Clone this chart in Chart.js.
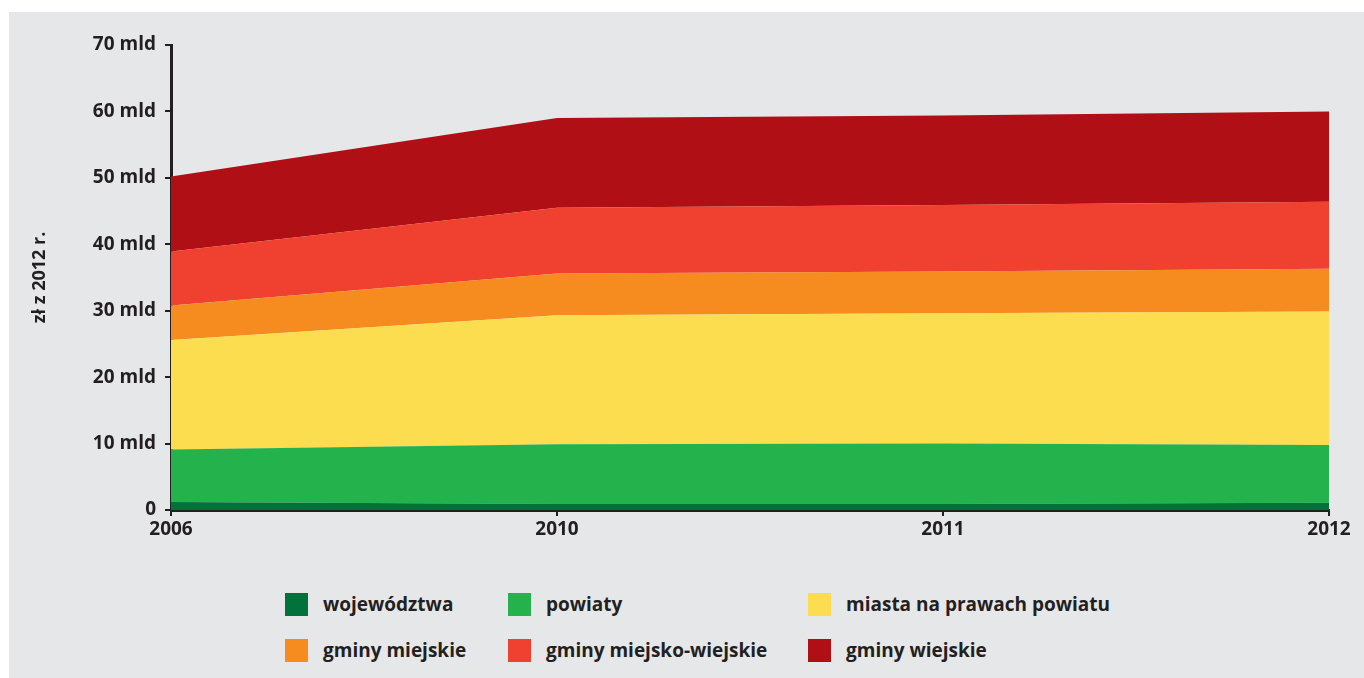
<!DOCTYPE html>
<html>
<head>
<meta charset="utf-8">
<script src="https://cdn.jsdelivr.net/npm/chart.js@4.4.0/dist/chart.umd.min.js"></script>
<style>
    body { margin: 0; background: #fff; font-family: "Open Sans", sans-serif; }
    #panel { position: absolute; left: 9px; top: 12px; width: 1355px; height: 666px; background: #e6e7e9; }
    #wrap { position: absolute; left: 0; top: 0; width: 1355px; height: 560px; }
    #legend { position: absolute; left: 276px; top: 569px; display: grid;
              grid-template-columns: 223px 300px 400px; grid-auto-rows: 46px; }
    .item { display: flex; align-items: center; font-weight: 700; font-size: 19px; color: #231f20; white-space: nowrap; }
    .box { width: 23px; height: 23px; margin-right: 15px; flex: none; }
</style>
</head>
<body>
<div id="panel">
    <div id="wrap"><canvas id="chart"></canvas></div>
    <div id="legend"></div>
</div>
<script>
// ==========================
// DANE
// ==========================
const years = ["2006", "2010", "2011", "2012"];

const wojewodztwa     = [1.2, 0.9, 0.9, 1.1];
const powiaty         = [7.9, 9.0, 9.1, 8.7];
const miasta          = [16.5, 19.4, 19.6, 20.1];
const gminyMiejskie   = [5.2, 6.3, 6.3, 6.4];
const gminyMiejskoWiej = [8.1, 9.9, 10.0, 10.1];
const gminyWiejskie   = [11.3, 13.5, 13.5, 13.6];

const yTicks = [0, 10, 20, 30, 40, 50, 60, 70];

const seriesNames  = ["województwa", "powiaty", "miasta na prawach powiatu",
                      "gminy miejskie", "gminy miejsko-wiejskie", "gminy wiejskie"];
const seriesValues = [wojewodztwa, powiaty, miasta, gminyMiejskie, gminyMiejskoWiej, gminyWiejskie];
const seriesColors = ["#00723a", "#24b24d", "#fddd50", "#f68b20", "#ef4030", "#b00f16"];

const ink = '#231f20';
const font = { family: '"Open Sans", sans-serif', size: 19, weight: '700' };

// ==========================
// WYKRES
// ==========================
const datasets = seriesNames.map((name, i) => ({
    label: name,
    data: seriesValues[i],
    backgroundColor: seriesColors[i],
    borderColor: seriesColors[i],
    borderWidth: 0,
    pointRadius: 0,
    fill: i === 0 ? 'origin' : '-1',
    tension: 0
}));

new Chart(document.getElementById('chart'), {
    type: 'line',
    data: { labels: years, datasets },
    options: {
        responsive: true,
        maintainAspectRatio: false,
        animation: false,
        layout: { padding: { left: 0, top: 33, right: 35, bottom: 0 } },
        plugins: { legend: { display: false }, tooltip: { enabled: false } },
        scales: {
            x: {
                offset: false,
                grid: { drawOnChartArea: false, drawTicks: true, tickLength: 6, color: ink, lineWidth: 2 },
                border: { color: ink, width: 3 },
                ticks: { color: ink, font, padding: 2, maxRotation: 0 },
                afterFit: s => { s.height = 62; }
            },
            y: {
                stacked: true,
                min: 0,
                max: 70,
                afterBuildTicks: s => { s.ticks = yTicks.map(v => ({ value: v })); },
                grid: { drawOnChartArea: false, drawTicks: true, tickLength: 6, color: ink, lineWidth: 2 },
                border: { color: ink, width: 3 },
                ticks: {
                    color: ink, font, padding: 9,
                    callback: v => v === 0 ? '0' : v + ' mld'
                },
                title: {
                    display: true, text: 'zł z 2012 r.', color: ink,
                    font: { family: font.family, size: 18, weight: '700' },
                    padding: { top: 20, bottom: 0 }
                },
                afterFit: s => { s.width = 162; }
            }
        }
    }
});

// ==========================
// LEGENDA
// ==========================
const legend = document.getElementById('legend');
seriesNames.forEach((name, i) => {
    const item = document.createElement('div');
    item.className = 'item';
    item.innerHTML = `<span class="box" style="background:${seriesColors[i]}"></span>${name}`;
    legend.appendChild(item);
});
</script>
</body>
</html>
